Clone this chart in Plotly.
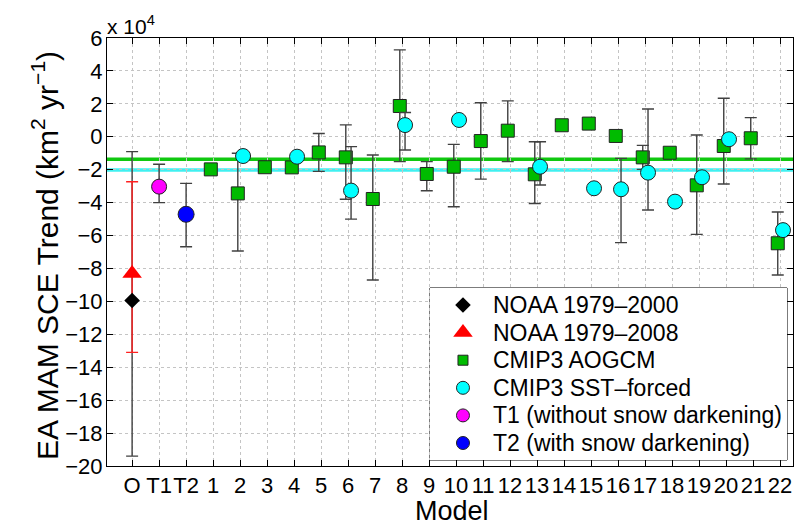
import plotly.graph_objects as go

# Values in units of 1e4 km^2 yr^-1
tick_labels = ["O", "T1", "T2"] + [str(i) for i in range(1, 23)]
tick_pos = list(range(len(tick_labels)))

# Observations
noaa00_val = [-9.95]
noaa00_plus = [9.05]
noaa00_minus = [9.45]
noaa08_val = [-8.3]
noaa08_plus = [5.57]
noaa08_minus = [4.8]

# Sensitivity experiments
t1_val = [-3.03]
t1_plus = [1.36]
t1_minus = [0.97]
t2_val = [-4.71]
t2_plus = [1.88]
t2_minus = [1.97]

# CMIP3 AOGCM (models 1..22)
aogcm_models = list(range(1, 23))
aogcm_val = [-1.98, -3.44, -1.85, -1.86, -0.95, -1.25, -3.78, 1.87, -2.26, -1.82, -0.26,
             0.37, -2.28, 0.70, 0.80, 0.05, -1.25, -0.97, -2.95, -0.56, -0.09, -6.47]
aogcm_plus = [0, 2.44, 0, 0, 1.15, 1.97, 2.67, 3.41, 0.75, 1.36, 2.33,
              1.81, 1.98, 0, 0, 0, 0.73, 0, 3.06, 2.90, 1.25, 1.90]
aogcm_minus = [0, 3.50, 0, 0, 1.15, 2.55, 4.92, 3.38, 1.02, 2.43, 2.31,
               1.88, 1.77, 0, 0, 0, 0.73, 0, 2.98, 2.31, 1.25, 1.93]

# CMIP3 SST-forced
sst_models = [2, 4, 6, 8, 10, 13, 15, 16, 17, 18, 19, 20, 22]
sst_val = [-1.17, -1.21, -3.27, 0.71, 1.02, -1.82, -3.13, -3.19, -2.18, -3.94, -2.46, -0.15, -5.67]
sst_plus = [0, 0, 2.67, 0.76, 0, 1.52, 0, 1.88, 3.87, 0, 0, 0, 0]
sst_minus = [0, 0, 1.73, 1.51, 0, 1.11, 0, 3.24, 2.27, 0, 0, 0, 0]

# Ensemble means
aogcm_mean = -1.37
sst_mean = -2.02

# Legend entries
legend_names = ["NOAA 1979–2000", "NOAA 1979–2008", "CMIP3 AOGCM", "CMIP3 SST–forced",
                "T1 (without snow darkening)", "T2 (with snow darkening)"]

FONT = "Liberation Sans, Arial, Helvetica, sans-serif"
ERRC = "#404040"
OUT = dict(width=1, color="#222222")

styles = [
    dict(symbol="diamond", size=12, color="#000000", line=dict(width=0)),
    dict(symbol="triangle-up", size=17, color="#ff0000", line=dict(width=0)),
    dict(symbol="square", size=13, color="#00bb00", line=OUT),
    dict(symbol="circle", size=15, color="#00ffff", line=OUT),
    dict(symbol="circle", size=15, color="#ff00ff", line=OUT),
    dict(symbol="circle", size=16, color="#0000ff", line=OUT),
]
legend_sizes = [12, 17, 10, 13, 13, 13]


def model_x(models, offset):
    return [m + 2 + offset for m in models]


def err(plus, minus, color=ERRC):
    return dict(type="data", symmetric=False, array=plus, arrayminus=minus,
                color=color, thickness=1.4, width=6)


fig = go.Figure()

fig.add_trace(go.Scatter(x=[0], y=noaa00_val, mode="markers",
                         marker=dict(size=1, opacity=0),
                         error_y=err(noaa00_plus, noaa00_minus)))
fig.add_trace(go.Scatter(x=[0], y=noaa08_val, mode="markers", name=legend_names[1],
                         marker=styles[1], error_y=err(noaa08_plus, noaa08_minus, "#ff2020")))
fig.add_trace(go.Scatter(x=[0], y=noaa00_val, mode="markers", name=legend_names[0],
                         marker=styles[0]))
fig.add_trace(go.Scatter(x=model_x(aogcm_models, -0.085), y=aogcm_val, mode="markers",
                         name=legend_names[2], marker=styles[2],
                         error_y=err(aogcm_plus, aogcm_minus)))
fig.add_trace(go.Scatter(x=model_x(sst_models, 0.11), y=sst_val, mode="markers",
                         name=legend_names[3], marker=styles[3],
                         error_y=err(sst_plus, sst_minus)))
fig.add_trace(go.Scatter(x=[1], y=t1_val, mode="markers", name=legend_names[4],
                         marker=styles[4], error_y=err(t1_plus, t1_minus)))
fig.add_trace(go.Scatter(x=[2], y=t2_val, mode="markers", name=legend_names[5],
                         marker=styles[5], error_y=err(t2_plus, t2_minus)))

fig.add_shape(type="line", xref="paper", x0=0, x1=1, yref="y", y0=sst_mean, y1=sst_mean,
              line=dict(color="#40f0f0", width=3.5), layer="between")
fig.add_shape(type="line", xref="paper", x0=0, x1=1, yref="y", y0=aogcm_mean, y1=aogcm_mean,
              line=dict(color="#10c810", width=3.5), layer="between")

# ---- Legend (MATLAB-style box), drawn on an overlay axis measured in pixels ----
LX0, LX1, LY0, LY1 = 0.4708, 0.9913, 0.014, 0.4159
box_w, box_h = 357, 172
row_h, row_top = 27.6, 17
fig.add_shape(type="rect", xref="paper", yref="paper", x0=LX0, x1=LX1, y0=LY0, y1=LY1,
              fillcolor="white", line=dict(color="black", width=1), layer="between")
annots = []
for i, (nm, st, ls) in enumerate(zip(legend_names, styles, legend_sizes)):
    mk = dict(st)
    mk["size"] = ls
    fig.add_trace(go.Scatter(x=[33], y=[row_top + row_h * i], mode="markers", marker=mk,
                             xaxis="x2", yaxis="y2", hoverinfo="skip"))
    annots.append(dict(text=nm, xref="x2", yref="y2", x=61, y=row_top + row_h * i,
                       xanchor="left", yanchor="middle", showarrow=False,
                       font=dict(size=23)))

yticks = list(range(-20, 7, 2))
ytext = [str(v).replace("-", "−") for v in yticks]

annots.append(dict(text="x 10<sup>4</sup>", xref="paper", yref="paper", x=0, y=1,
                   xanchor="left", yanchor="bottom", showarrow=False,
                   font=dict(size=21), xshift=-2, yshift=-2))
annots.append(dict(text="Model", xref="paper", yref="paper", x=0.503, y=-0.105,
                   xanchor="center", yanchor="middle", showarrow=False,
                   font=dict(size=27)))
annots.append(dict(text="EA MAM SCE Trend (km<sup>2</sup> yr<sup>−1</sup>)",
                   xref="paper", yref="paper", x=-0.0904, y=0.493, textangle=-90,
                   xanchor="center", yanchor="middle", showarrow=False,
                   font=dict(size=30)))

# The page body adds an 8px offset; margins compensate so the plot area sits
# at x 107-793, y 38-466 of the window.
fig.update_layout(
    width=810, height=526,
    margin=dict(l=99, r=25, t=30, b=68),
    paper_bgcolor="white", plot_bgcolor="white",
    font=dict(family=FONT, size=22, color="black"),
    showlegend=False,
    xaxis=dict(range=[-0.93, 24.48], tickmode="array", tickvals=tick_pos, ticktext=tick_labels,
               tickangle=0,
               ticks="inside", ticklen=6, tickcolor="black", mirror="ticks",
               showline=True, linecolor="black", linewidth=1,
               showgrid=True, gridcolor="#c4c4c4", griddash="dot", gridwidth=1,
               zeroline=False, tickfont=dict(size=22), automargin=False),
    yaxis=dict(range=[-20, 6], tickmode="array", tickvals=yticks, ticktext=ytext,
               ticks="inside", ticklen=6, tickcolor="black", mirror="ticks",
               showline=True, linecolor="black", linewidth=1,
               showgrid=True, gridcolor="#c4c4c4", griddash="dot", gridwidth=1,
               zeroline=False, tickfont=dict(size=22), ticklabelstandoff=-1,
               automargin=False),
    xaxis2=dict(domain=[LX0, LX1], range=[0, box_w], anchor="y2", visible=False,
                fixedrange=True),
    yaxis2=dict(domain=[LY0, LY1], range=[box_h, 0], anchor="x2", visible=False,
                fixedrange=True),
    annotations=annots,
)

fig.write_html("out.html")
